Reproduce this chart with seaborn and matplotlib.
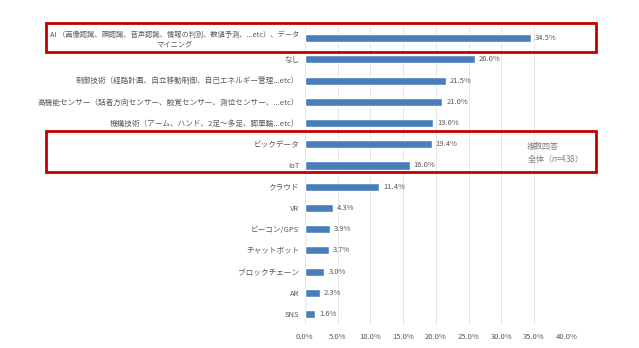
import matplotlib
matplotlib.use("Agg")
import matplotlib.pyplot as plt
import seaborn as sns
import pandas as pd
from matplotlib.patches import Rectangle

categories = [
    "AI （画像認識、顔認識、音声認識、情報の判別、数値予測、...etc）、データ\nマイニング",
    "なし",
    "制御技術（経路計画、自立移動制御、自己エネルギー管理...etc）",
    "高機能センサー（話者方向センサー、触覚センサー、測位センサー、...etc）",
    "機構技術（アーム、ハンド、2足～多足、脚車輪...etc）",
    "ビックデータ",
    "IoT",
    "クラウド",
    "VR",
    "ビーコン/GPS",
    "チャットボット",
    "ブロックチェーン",
    "AR",
    "SNS",
]
values = [34.5, 26.0, 21.5, 21.0, 19.6, 19.4, 16.0, 11.4, 4.3, 3.9, 3.7, 3.0, 2.3, 1.6]
xticks = [0, 5, 10, 15, 20, 25, 30, 35, 40]

sns.set_style("white")
plt.rcParams["font.family"] = ["Noto Sans CJK JP", "DejaVu Sans"]

df = pd.DataFrame({"cat": categories, "val": values})

fig = plt.figure(figsize=(6.39, 3.48), dpi=100)
ax = fig.add_axes([0.477, 0.067, 0.410, 0.854])

sns.barplot(data=df, x="val", y="cat", orient="h", color="#4a7ebb",
            width=0.38, saturation=1, ax=ax, zorder=3)

ax.set_xlim(0, 40)
ax.set_ylim(len(categories) - 0.5, -0.5)
ax.set_xticks(xticks)
ax.set_xticklabels([f"{t:.1f}%" for t in xticks], fontsize=5.5, color="#595959")
ax.tick_params(axis="x", length=0, pad=6)
ax.tick_params(axis="y", length=0, pad=4, labelsize=5.5, labelcolor="#595959")
for i, lbl in enumerate(ax.get_yticklabels()):
    lbl.set_multialignment("center")
    if i == 0:
        lbl.set_fontsize(5.25)
ax.set_xlabel("")
ax.set_ylabel("")
for s in ax.spines.values():
    s.set_visible(False)
ax.grid(axis="x", color="#e6e6e6", linewidth=0.7, zorder=0)
ax.set_axisbelow(True)

for i, v in enumerate(values):
    ax.text(v + 0.6, i, f"{v:.1f}%", va="center", ha="left", fontsize=5.5, color="#595959")

ax.text(0.847, 0.615, "複数回答\n全体（$\\it{n}$=438）", transform=ax.transAxes,
        fontsize=5.8, color="#808080", va="top", ha="left", linespacing=1.2)

W, H = 639, 348
def box(x0, y0, x1, y1):
    fig.patches.append(Rectangle((x0 / W, 1 - y1 / H), (x1 - x0) / W, (y1 - y0) / H,
                                 transform=fig.transFigure, fill=False,
                                 edgecolor="#c00000", linewidth=2.0, zorder=10))
box(46, 23, 596, 52)
box(46, 131, 596, 172)

fig.savefig("out.png", dpi=100, facecolor="white")
